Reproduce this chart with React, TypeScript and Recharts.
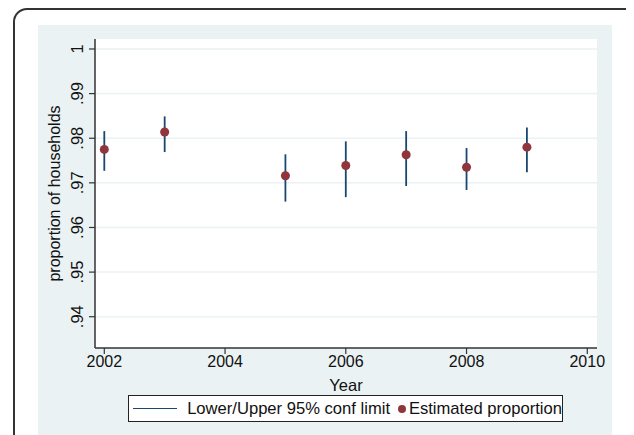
import React from "react";
import {
  ComposedChart,
  Scatter,
  ErrorBar,
  XAxis,
  YAxis,
  CartesianGrid,
  Legend,
} from "recharts";

const years = [2002, 2003, 2005, 2006, 2007, 2008, 2009];
const estimates = [0.9775, 0.9814, 0.9716, 0.9739, 0.9763, 0.9735, 0.978];
const lowerLimits = [0.9727, 0.9769, 0.9658, 0.9668, 0.9693, 0.9684, 0.9724];
const upperLimits = [0.9816, 0.9849, 0.9764, 0.9793, 0.9816, 0.9778, 0.9824];

const xTicks = [2002, 2004, 2006, 2008, 2010];
const yTicks = [0.94, 0.95, 0.96, 0.97, 0.98, 0.99, 1];
const yTickLabels = [".94", ".95", ".96", ".97", ".98", ".99", "1"];

const data = years.map((year, i) => ({
  year,
  est: estimates[i],
  err: [estimates[i] - lowerLimits[i], upperLimits[i] - estimates[i]],
}));

const NAVY = "#1a476f";
const MAROON = "#90353b";
const BG = "#eaf2f3";
const FONT = "'Liberation Sans', Arial, Helvetica, sans-serif";

const YTick = (props: any) => {
  const { x, y, payload } = props;
  const idx = yTicks.indexOf(payload.value);
  const label = idx >= 0 ? yTickLabels[idx] : String(payload.value);
  const bx = x - 2;
  return (
    <text
      x={bx}
      y={y}
      transform={`rotate(-90, ${bx}, ${y})`}
      textAnchor="middle"
      fontSize={16.5}
      fontFamily={FONT}
      fill="#111"
    >
      {label}
    </text>
  );
};

const XTick = (props: any) => {
  const { x, y, payload } = props;
  return (
    <text
      x={x}
      y={y + 11}
      textAnchor="middle"
      fontSize={16}
      fontFamily={FONT}
      fill="#111"
    >
      {payload.value}
    </text>
  );
};

const LegendBox = () => (
  <div
    style={{
      boxSizing: "border-box",
      height: 27,
      width: 435,
      border: "1px solid #222",
      background: "#fff",
      display: "flex",
      alignItems: "center",
      fontFamily: FONT,
      fontSize: 16.6,
      color: "#111",
      whiteSpace: "nowrap",
    }}
  >
    <span
      style={{
        display: "inline-block",
        width: 45,
        height: 0,
        borderTop: `1.5px solid ${NAVY}`,
        marginLeft: 4,
        marginRight: 10,
      }}
    />
    <span>Lower/Upper 95% conf limit</span>
    <span
      style={{
        display: "inline-block",
        width: 8,
        height: 8,
        borderRadius: 4,
        background: MAROON,
        marginLeft: 8,
        marginRight: 3,
      }}
    />
    <span>Estimated proportion</span>
  </div>
);

export default function App() {
  return (
    <div
      style={{
        position: "relative",
        width: 626,
        height: 427,
        overflow: "hidden",
        background: "#fff",
      }}
    >
      <div
        style={{
          position: "absolute",
          left: 5,
          top: 0,
          width: 640,
          height: 480,
          border: "2px solid #333",
          borderRadius: 14,
          boxSizing: "border-box",
        }}
      />
      <div style={{ position: "absolute", left: 30, top: 17 }}>
        <ComposedChart
          width={574}
          height={410}
          data={data}
          margin={{ top: 14, right: 15, left: 0, bottom: 13 }}
          style={{ background: BG }}
        >
          <CartesianGrid
            vertical={false}
            stroke={BG}
            strokeWidth={1.5}
            fill="#fff"
            horizontalValues={yTicks}
          />
          <XAxis
            dataKey="year"
            type="number"
            domain={[2001.846, 2010.161]}
            allowDataOverflow
            ticks={xTicks}
            interval={0}
            tickSize={6}
            tickLine={{ stroke: "#333", strokeWidth: 1.2 }}
            axisLine={{ stroke: "#333", strokeWidth: 1.5 }}
            tick={<XTick />}
            height={47}
            label={{
              value: "Year",
              position: "insideBottom",
              offset: 4,
              fontSize: 16.5,
              fontFamily: FONT,
              fill: "#111",
            }}
          />
          <YAxis
            type="number"
            domain={[0.93299, 1.00224]}
            allowDataOverflow
            ticks={yTicks}
            interval={0}
            width={57}
            tickSize={6}
            tickMargin={4}
            tickLine={{ stroke: "#333", strokeWidth: 1.2 }}
            axisLine={{ stroke: "#333", strokeWidth: 1.5 }}
            tick={<YTick />}
            label={{
              content: (p: any) => {
                const vb = p.viewBox || {};
                const cx = (vb.x || 0) + 22;
                const cy = (vb.y || 0) + (vb.height || 0) / 2;
                return (
                  <text
                    x={cx}
                    y={cy}
                    transform={`rotate(-90, ${cx}, ${cy})`}
                    textAnchor="middle"
                    fontSize={16}
                    fontFamily={FONT}
                    fill="#111"
                  >
                    proportion of households
                  </text>
                );
              },
            }}
          />
          <Legend
            verticalAlign="bottom"
            align="left"
            content={<LegendBox />}
            wrapperStyle={{ left: 90, width: 435, height: 27, bottom: 13 }}
          />
          <Scatter
            dataKey="est"
            fill={MAROON}
            isAnimationActive={false}
            legendType="circle"
          >
            <ErrorBar
              dataKey="err"
              direction="y"
              width={0}
              stroke={NAVY}
              strokeWidth={1.8}
              isAnimationActive={false}
            />
          </Scatter>
        </ComposedChart>
      </div>
    </div>
  );
}
